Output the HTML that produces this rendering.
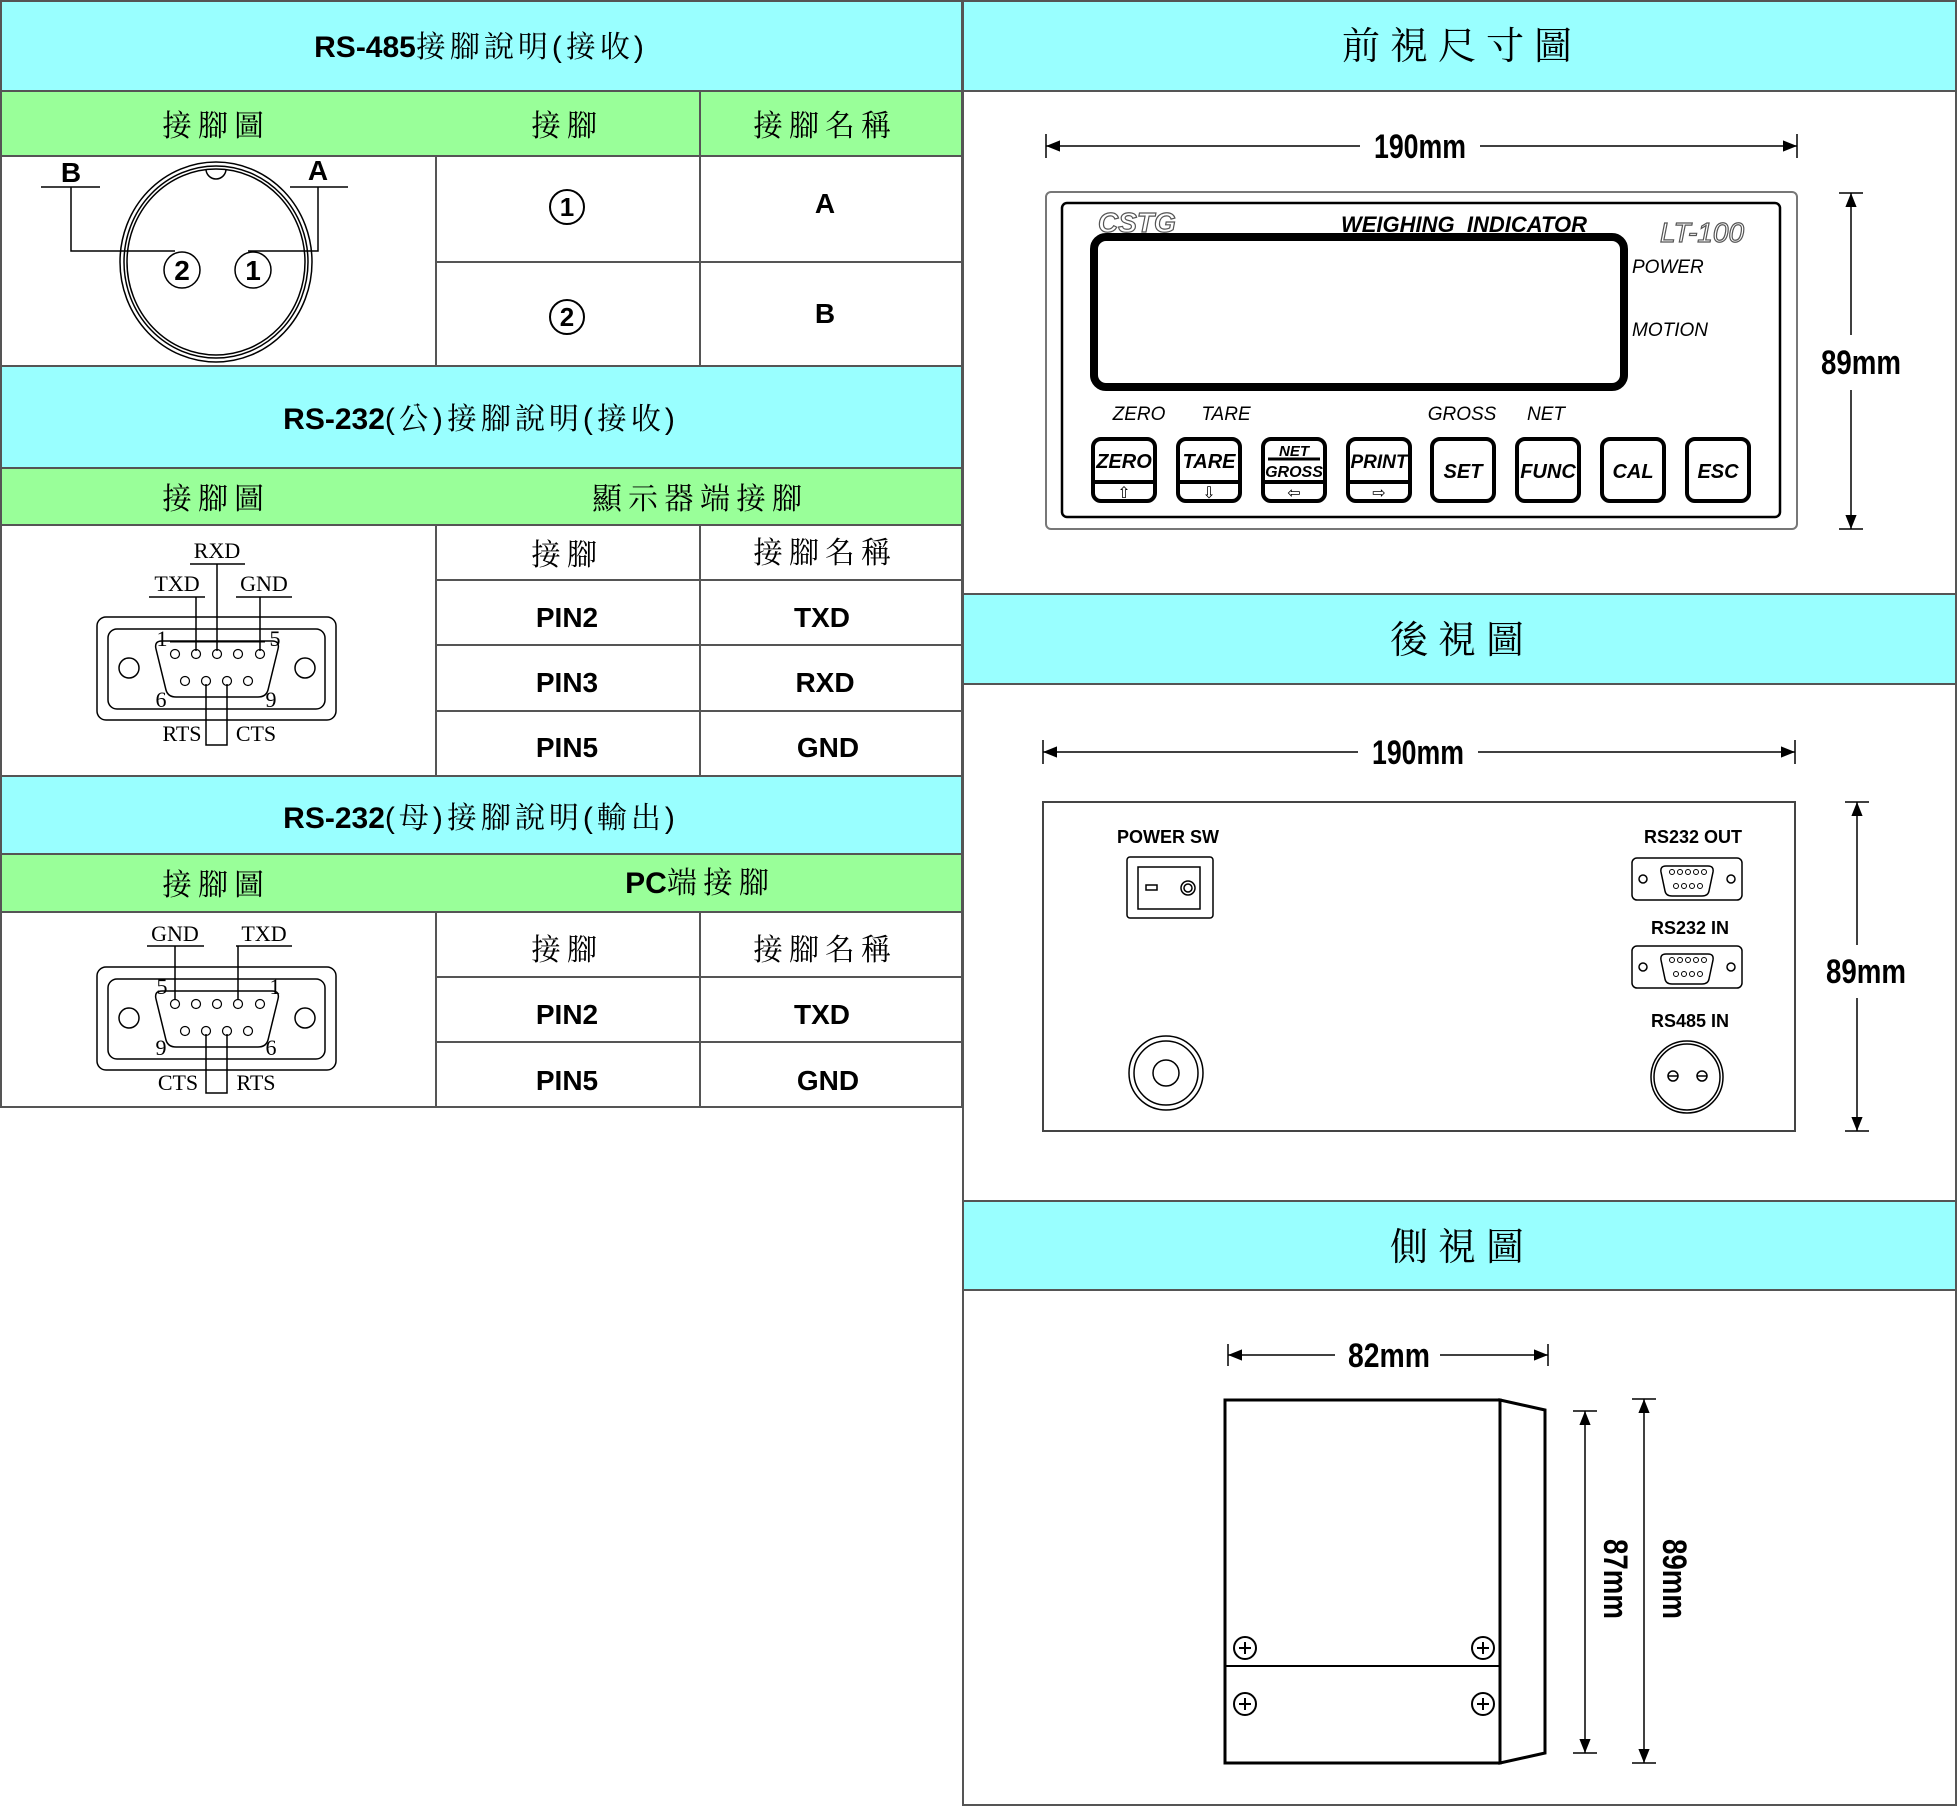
<!DOCTYPE html>
<html><head><meta charset="utf-8"><style>
html,body{margin:0;padding:0;background:#fff}
svg{display:block}
.cj{font-family:"Liberation Sans","Noto Serif CJK TC","Noto Serif CJK SC",serif}
.b{font-family:"Liberation Sans",sans-serif;font-weight:bold}
.tm{font-family:"Liberation Serif",serif}
.it{font-family:"Liberation Sans",sans-serif;font-style:italic}
.dm{font-family:"Liberation Sans",sans-serif;font-weight:bold}
</style></head><body>
<svg width="1957" height="1806" viewBox="0 0 1957 1806" xmlns="http://www.w3.org/2000/svg">
<defs>
<marker id="ar" viewBox="0 0 10 10" refX="10" refY="5" markerWidth="14" markerHeight="14" markerUnits="userSpaceOnUse" orient="auto-start-reverse"><path d="M0,1 L10,5 L0,9 z" fill="#000"/></marker>
</defs>
<g stroke="#555" stroke-width="2">
<rect x="1" y="1" width="961" height="90" fill="#99ffff"/>
<rect x="1" y="91" width="961" height="65" fill="#99ff99"/>
<rect x="1" y="156" width="961" height="210" fill="#fff"/>
<rect x="1" y="366" width="961" height="102" fill="#99ffff"/>
<rect x="1" y="468" width="961" height="57" fill="#99ff99"/>
<rect x="1" y="525" width="961" height="251" fill="#fff"/>
<rect x="1" y="776" width="961" height="78" fill="#99ffff"/>
<rect x="1" y="854" width="961" height="58" fill="#99ff99"/>
<rect x="1" y="912" width="961" height="195" fill="#fff"/>
<line x1="700" y1="91" x2="700" y2="366"/>
<line x1="436" y1="156" x2="436" y2="366"/>
<line x1="436" y1="262" x2="962" y2="262"/>
<line x1="436" y1="525" x2="436" y2="776"/>
<line x1="700" y1="525" x2="700" y2="776"/>
<line x1="436" y1="580" x2="962" y2="580"/>
<line x1="436" y1="645" x2="962" y2="645"/>
<line x1="436" y1="711" x2="962" y2="711"/>
<line x1="436" y1="912" x2="436" y2="1107"/>
<line x1="700" y1="912" x2="700" y2="1107"/>
<line x1="436" y1="977" x2="962" y2="977"/>
<line x1="436" y1="1042" x2="962" y2="1042"/>
</g>
<g class="cj" font-size="30" text-anchor="middle" fill="#000">
<text x="481" y="57"><tspan font-weight="bold">RS-485</tspan><tspan letter-spacing="4">接腳說明(接收)</tspan></text>
<text x="216" y="136" letter-spacing="6">接腳圖</text>
<text x="567" y="136" letter-spacing="6">接腳</text>
<text x="825" y="136" letter-spacing="6">接腳名稱</text>
<text x="481" y="429"><tspan font-weight="bold">RS-232</tspan><tspan letter-spacing="4">(公)接腳說明(接收)</tspan></text>
<text x="216" y="509" letter-spacing="6">接腳圖</text>
<text x="700" y="509" letter-spacing="6">顯示器端接腳</text>
<text x="567" y="565" letter-spacing="6">接腳</text>
<text x="825" y="563" letter-spacing="6">接腳名稱</text>
<text x="481" y="828"><tspan font-weight="bold">RS-232</tspan><tspan letter-spacing="4">(母)接腳說明(輸出)</tspan></text>
<text x="216" y="895" letter-spacing="6">接腳圖</text>
<text x="700" y="893"><tspan font-weight="bold">PC</tspan><tspan letter-spacing="6">端接腳</tspan></text>
<text x="567" y="960" letter-spacing="6">接腳</text>
<text x="825" y="960" letter-spacing="6">接腳名稱</text>
</g>
<g class="b" font-size="28" text-anchor="middle">
<text x="825" y="213">A</text><text x="825" y="323">B</text>
<text x="567" y="627">PIN2</text><text x="822" y="627">TXD</text>
<text x="567" y="692">PIN3</text><text x="825" y="692">RXD</text>
<text x="567" y="757">PIN5</text><text x="828" y="757">GND</text>
<text x="567" y="1024">PIN2</text><text x="822" y="1024">TXD</text>
<text x="567" y="1090">PIN5</text><text x="828" y="1090">GND</text>
</g>
<g fill="none" stroke="#000" stroke-width="2">
<circle cx="567" cy="207" r="17"/><circle cx="567" cy="317" r="17"/>
</g>
<g class="b" font-size="26" text-anchor="middle"><text x="567" y="216">1</text><text x="567" y="326">2</text></g>
<g fill="none" stroke="#000" stroke-width="1.5">
<ellipse cx="216" cy="262" rx="96" ry="100"/>
<ellipse cx="216" cy="262" rx="92" ry="96"/>
<ellipse cx="216" cy="262" rx="89" ry="93"/>
<path d="M206,169 A10,10 0 0 0 226,169"/>
<line x1="41" y1="187" x2="100" y2="187"/><line x1="290" y1="187" x2="348" y2="187"/>
<polyline points="71,187 71,251 175,251"/>
<polyline points="318,187 318,251 248,251"/>
<circle cx="182" cy="270" r="18" fill="#fff"/><circle cx="253" cy="270" r="18" fill="#fff"/>
</g>
<g class="b" font-size="28" text-anchor="middle">
<text x="71" y="182">B</text><text x="318" y="180">A</text>
<text x="182" y="280">2</text><text x="253" y="280">1</text>
</g>
<g fill="none" stroke="#000" stroke-width="1.5">
<rect x="97" y="617" width="239" height="103" rx="9"/>
<rect x="108" y="629" width="217" height="80" rx="9"/>
<path d="M162,641 L272,641 Q280,641 278,649 L268,690 Q266,697 258,697 L176,697 Q168,697 166,690 L156,649 Q154,641 162,641 Z"/>
<circle cx="129" cy="668" r="10"/><circle cx="305" cy="668" r="10"/>
<g stroke-width="1.2">
<circle cx="175" cy="654" r="4.5"/><circle cx="196" cy="654" r="4.5"/><circle cx="217" cy="654" r="4.5"/><circle cx="238" cy="654" r="4.5"/><circle cx="260" cy="654" r="4.5"/>
<circle cx="185" cy="681" r="4.5"/><circle cx="206" cy="681" r="4.5"/><circle cx="227" cy="681" r="4.5"/><circle cx="248" cy="681" r="4.5"/>
</g>
<line x1="149" y1="597" x2="205" y2="597"/><line x1="236" y1="597" x2="292" y2="597"/>
<line x1="217" y1="564" x2="217" y2="651"/><line x1="196" y1="597" x2="196" y2="651"/><line x1="260" y1="597" x2="260" y2="651"/>
<line x1="190" y1="564" x2="245" y2="564"/>
<line x1="170" y1="642" x2="265" y2="642" stroke-width="1"/>
<polyline points="206,684 206,745 227,745 227,684"/>
</g>
<g class="tm" font-size="22" text-anchor="middle">
<text x="217" y="558">RXD</text><text x="177" y="591">TXD</text><text x="264" y="591">GND</text>
<text x="162" y="646">1</text><text x="275" y="646">5</text><text x="161" y="707">6</text><text x="271" y="707">9</text>
<text x="182" y="741">RTS</text><text x="256" y="741">CTS</text>
</g>
<g fill="none" stroke="#000" stroke-width="1.5">
<rect x="97" y="967" width="239" height="103" rx="9"/>
<rect x="108" y="979" width="217" height="80" rx="9"/>
<path d="M162,991 L272,991 Q280,991 278,999 L268,1040 Q266,1047 258,1047 L176,1047 Q168,1047 166,1040 L156,999 Q154,991 162,991 Z"/>
<circle cx="129" cy="1018" r="10"/><circle cx="305" cy="1018" r="10"/>
<g stroke-width="1.2">
<circle cx="175" cy="1004" r="4.5"/><circle cx="196" cy="1004" r="4.5"/><circle cx="217" cy="1004" r="4.5"/><circle cx="238" cy="1004" r="4.5"/><circle cx="260" cy="1004" r="4.5"/>
<circle cx="185" cy="1031" r="4.5"/><circle cx="206" cy="1031" r="4.5"/><circle cx="227" cy="1031" r="4.5"/><circle cx="248" cy="1031" r="4.5"/>
</g>
<line x1="147" y1="946" x2="204" y2="946"/><line x1="236" y1="946" x2="292" y2="946"/>
<line x1="175" y1="946" x2="175" y2="1000"/><line x1="238" y1="946" x2="238" y2="1000"/>
<polyline points="206,1034 206,1093 227,1093 227,1034"/>
</g>
<g class="tm" font-size="22" text-anchor="middle">
<text x="175" y="941">GND</text><text x="264" y="941">TXD</text>
<text x="162" y="994">5</text><text x="275" y="994">1</text><text x="161" y="1055">9</text><text x="271" y="1055">6</text>
<text x="178" y="1090">CTS</text><text x="256" y="1090">RTS</text>
</g>

<g stroke="#555" stroke-width="2">
<rect x="963" y="1" width="993" height="90" fill="#99ffff"/>
<rect x="963" y="91" width="993" height="503" fill="#fff"/>
<rect x="963" y="594" width="993" height="90" fill="#99ffff"/>
<rect x="963" y="684" width="993" height="517" fill="#fff"/>
<rect x="963" y="1201" width="993" height="89" fill="#99ffff"/>
<rect x="963" y="1290" width="993" height="515" fill="#fff"/>
</g>
<g class="cj" font-size="38" text-anchor="middle" letter-spacing="10">
<text x="1462" y="59">前視尺寸圖</text>
<text x="1462" y="653">後視圖</text>
<text x="1462" y="1260">側視圖</text>
</g>
<g stroke="#000" stroke-width="1.5" fill="none">
<line x1="1046" y1="146" x2="1360" y2="146" marker-start="url(#ar)"/>
<line x1="1480" y1="146" x2="1797" y2="146" marker-end="url(#ar)"/>
<line x1="1046" y1="134" x2="1046" y2="158"/><line x1="1797" y1="134" x2="1797" y2="158"/>
<line x1="1851" y1="193" x2="1851" y2="335" marker-start="url(#ar)"/>
<line x1="1851" y1="390" x2="1851" y2="529" marker-end="url(#ar)"/>
<line x1="1839" y1="193" x2="1863" y2="193"/><line x1="1839" y1="529" x2="1863" y2="529"/>
<rect x="1046" y="192" width="751" height="337" rx="5" stroke="#777" stroke-width="2"/>
<rect x="1062" y="203" width="718" height="314" rx="5" stroke-width="2.5"/>
<rect x="1094" y="237" width="530" height="150" rx="12" stroke-width="8"/>
</g>
<g class="dm" font-size="34" text-anchor="middle">
<text x="1420" y="158" textLength="92" lengthAdjust="spacingAndGlyphs">190mm</text>
<text x="1861" y="374" textLength="80" lengthAdjust="spacingAndGlyphs">89mm</text>
</g>
<text x="1098" y="232" class="it" font-size="28" font-weight="bold" fill="#fff" stroke="#555" stroke-width="1.2">CSTG</text>
<text x="1464" y="232" class="it" font-size="22" font-weight="bold" text-anchor="middle">WEIGHING&#160; INDICATOR</text>
<text x="1702" y="242" class="it" font-size="28" text-anchor="middle" fill="#fff" stroke="#555" stroke-width="1.2">LT-100</text>
<g class="it" font-size="19">
<text x="1632" y="273">POWER</text><text x="1632" y="336">MOTION</text>
<text x="1139" y="420" text-anchor="middle">ZERO</text><text x="1226" y="420" text-anchor="middle">TARE</text>
<text x="1462" y="420" text-anchor="middle">GROSS</text><text x="1546" y="420" text-anchor="middle">NET</text>
</g>
<g stroke="#000" stroke-width="4" fill="none">
<rect x="1093" y="439" width="62" height="62" rx="8"/><rect x="1178" y="439" width="62" height="62" rx="8"/>
<rect x="1263" y="439" width="62" height="62" rx="8"/><rect x="1348" y="439" width="62" height="62" rx="8"/>
<rect x="1432" y="439" width="62" height="62" rx="8"/><rect x="1517" y="439" width="62" height="62" rx="8"/>
<rect x="1602" y="439" width="62" height="62" rx="8"/><rect x="1687" y="439" width="62" height="62" rx="8"/>
<line x1="1093" y1="482" x2="1155" y2="482"/><line x1="1178" y1="482" x2="1240" y2="482"/>
<line x1="1263" y1="482" x2="1325" y2="482"/><line x1="1348" y1="482" x2="1410" y2="482"/>
<line x1="1268" y1="459" x2="1320" y2="459" stroke-width="3"/>
</g>
<g class="it" font-weight="bold" font-size="20" text-anchor="middle">
<text x="1124" y="468">ZERO</text><text x="1209" y="468">TARE</text>
<text x="1294" y="456" font-size="15">NET</text><text x="1294" y="477" font-size="16">GROSS</text>
<text x="1379" y="468" font-size="19">PRINT</text>
<text x="1463" y="478">SET</text><text x="1548" y="478">FUNC</text><text x="1633" y="478">CAL</text><text x="1718" y="478">ESC</text>
</g>
<g font-family="'DejaVu Sans',sans-serif" font-size="16" text-anchor="middle">
<text x="1124" y="498">⇧</text><text x="1209" y="498">⇩</text><text x="1294" y="498">⇦</text><text x="1379" y="498">⇨</text>
</g>
<g stroke="#000" stroke-width="1.5" fill="none">
<line x1="1043" y1="752" x2="1358" y2="752" marker-start="url(#ar)"/>
<line x1="1478" y1="752" x2="1795" y2="752" marker-end="url(#ar)"/>
<line x1="1043" y1="740" x2="1043" y2="764"/><line x1="1795" y1="740" x2="1795" y2="764"/>
<line x1="1857" y1="802" x2="1857" y2="945" marker-start="url(#ar)"/>
<line x1="1857" y1="998" x2="1857" y2="1131" marker-end="url(#ar)"/>
<line x1="1845" y1="802" x2="1869" y2="802"/><line x1="1845" y1="1131" x2="1869" y2="1131"/>
<rect x="1043" y="802" width="752" height="329" stroke="#444" stroke-width="2"/>
<rect x="1127" y="857" width="86" height="61" rx="3"/>
<rect x="1138" y="867" width="62" height="42"/>
<rect x="1146" y="885" width="11" height="5"/>
<circle cx="1188" cy="888" r="7"/><circle cx="1188" cy="888" r="4"/>
<circle cx="1166" cy="1073" r="37"/><circle cx="1166" cy="1073" r="32"/><circle cx="1166" cy="1073" r="13"/>
<rect x="1632" y="858" width="110" height="42" rx="5"/>
<path d="M1666,866 L1708,866 Q1714,866 1713,872 L1709,891 Q1708,896 1702,896 L1672,896 Q1666,896 1665,891 L1661,872 Q1660,866 1666,866Z"/>
<circle cx="1643" cy="879" r="4"/><circle cx="1731" cy="879" r="4"/>
<rect x="1632" y="946" width="110" height="42" rx="5"/>
<path d="M1666,954 L1708,954 Q1714,954 1713,960 L1709,979 Q1708,984 1702,984 L1672,984 Q1666,984 1665,979 L1661,960 Q1660,954 1666,954Z"/>
<circle cx="1643" cy="967" r="4"/><circle cx="1731" cy="967" r="4"/>
<g stroke-width="1">
<circle cx="1672" cy="872" r="2.5"/><circle cx="1680" cy="872" r="2.5"/><circle cx="1688" cy="872" r="2.5"/><circle cx="1696" cy="872" r="2.5"/><circle cx="1704" cy="872" r="2.5"/>
<circle cx="1676" cy="886" r="2.5"/><circle cx="1684" cy="886" r="2.5"/><circle cx="1692" cy="886" r="2.5"/><circle cx="1700" cy="886" r="2.5"/>
<circle cx="1672" cy="960" r="2.5"/><circle cx="1680" cy="960" r="2.5"/><circle cx="1688" cy="960" r="2.5"/><circle cx="1696" cy="960" r="2.5"/><circle cx="1704" cy="960" r="2.5"/>
<circle cx="1676" cy="974" r="2.5"/><circle cx="1684" cy="974" r="2.5"/><circle cx="1692" cy="974" r="2.5"/><circle cx="1700" cy="974" r="2.5"/>
</g>
<circle cx="1687" cy="1077" r="36"/><circle cx="1687" cy="1077" r="33"/>
<circle cx="1673" cy="1076" r="5"/><circle cx="1702" cy="1076" r="5"/>
<line x1="1668" y1="1076" x2="1678" y2="1076"/><line x1="1697" y1="1076" x2="1707" y2="1076"/>
</g>
<g class="b" font-size="18" text-anchor="middle">
<text x="1168" y="843">POWER SW</text><text x="1693" y="843">RS232 OUT</text>
<text x="1690" y="934">RS232 IN</text><text x="1690" y="1027">RS485 IN</text>
</g>
<g class="dm" font-size="34" text-anchor="middle">
<text x="1418" y="764" textLength="92" lengthAdjust="spacingAndGlyphs">190mm</text>
<text x="1866" y="983" textLength="80" lengthAdjust="spacingAndGlyphs">89mm</text>
</g>
<g stroke="#000" fill="none">
<line x1="1228" y1="1355" x2="1335" y2="1355" stroke-width="1.5" marker-start="url(#ar)"/>
<line x1="1440" y1="1355" x2="1548" y2="1355" stroke-width="1.5" marker-end="url(#ar)"/>
<line x1="1228" y1="1344" x2="1228" y2="1366" stroke-width="1.5"/><line x1="1548" y1="1344" x2="1548" y2="1366" stroke-width="1.5"/>
<rect x="1225" y="1400" width="275" height="363" stroke-width="3"/>
<polygon points="1500,1400 1545,1410 1545,1753 1500,1763" stroke-width="3"/>
<line x1="1225" y1="1666" x2="1500" y2="1666" stroke-width="2"/>
<g stroke-width="2">
<circle cx="1245" cy="1648" r="11"/><circle cx="1483" cy="1648" r="11"/><circle cx="1245" cy="1704" r="11"/><circle cx="1483" cy="1704" r="11"/>
<path d="M1239,1648h12M1245,1642v12M1477,1648h12M1483,1642v12M1239,1704h12M1245,1698v12M1477,1704h12M1483,1698v12"/>
</g>
<line x1="1585" y1="1411" x2="1585" y2="1753" stroke-width="1.5" marker-start="url(#ar)" marker-end="url(#ar)"/>
<line x1="1573" y1="1411" x2="1597" y2="1411" stroke-width="1.5"/><line x1="1573" y1="1753" x2="1597" y2="1753" stroke-width="1.5"/>
<line x1="1644" y1="1399" x2="1644" y2="1763" stroke-width="1.5" marker-start="url(#ar)" marker-end="url(#ar)"/>
<line x1="1632" y1="1399" x2="1656" y2="1399" stroke-width="1.5"/><line x1="1632" y1="1763" x2="1656" y2="1763" stroke-width="1.5"/>
</g>
<rect x="1598" y="1535" width="36" height="88" fill="#fff"/>
<rect x="1656" y="1535" width="40" height="88" fill="#fff"/>
<g class="dm" font-size="34" text-anchor="middle">
<text x="1389" y="1367" textLength="82" lengthAdjust="spacingAndGlyphs">82mm</text>
<text transform="translate(1604,1579) rotate(90)" textLength="80" lengthAdjust="spacingAndGlyphs">87mm</text>
<text transform="translate(1663,1579) rotate(90)" textLength="80" lengthAdjust="spacingAndGlyphs">89mm</text>
</g>
</svg>
</body></html>
